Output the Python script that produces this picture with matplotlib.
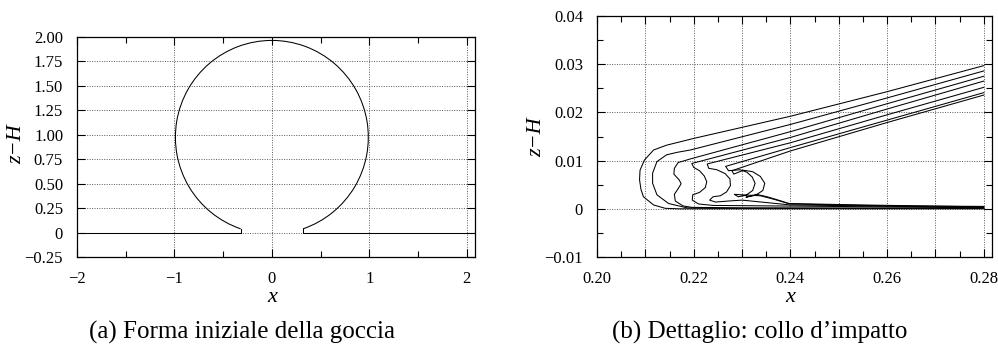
import matplotlib
matplotlib.use("Agg")
import matplotlib.pyplot as plt
from matplotlib.patches import Arc
from matplotlib.ticker import MultipleLocator, FuncFormatter

plt.rcParams['font.family'] = 'Liberation Serif'

# ---- (a) initial drop shape ----
drop_center = (0.0, 0.975)
drop_radius = 0.99
wall_left_x = [-2.0, -0.32, -0.32]
wall_left_y = [0.0, 0.0, 0.038]
wall_right_x = [0.32, 0.32, 2.085]
wall_right_y = [0.038, 0.0, 0.0]

a_xticks = [-2, -1, 0, 1, 2]
a_yticks = [-0.25, 0, 0.25, 0.5, 0.75, 1.0, 1.25, 1.5, 1.75, 2.0]

# ---- (b) impact neck profiles (outermost first) ----
c1_x = [0.28, 0.26, 0.24, 0.22, 0.2144, 0.2117, 0.2098, 0.2089, 0.2088,
        0.2091, 0.2096, 0.2117, 0.2141, 0.2170, 0.28]
c1_y = [0.0297, 0.0243, 0.0192, 0.0146, 0.0132, 0.0122, 0.0101, 0.0080,
        0.0060, 0.0040, 0.0025, 0.0008, 0.0001, 0.0, 0.0]

c2_x = [0.28, 0.26, 0.24, 0.2193, 0.2165, 0.2144, 0.2124, 0.2115, 0.2115,
        0.2124, 0.2148, 0.2186, 0.225, 0.28]
c2_y = [0.0286, 0.0230, 0.0175, 0.0122, 0.0117, 0.0112, 0.0098, 0.0074,
        0.0053, 0.0029, 0.0011, 0.0002, 0.0001, 0.0001]

c3_x = [0.28, 0.26, 0.24, 0.2195, 0.2168, 0.2160, 0.2159, 0.2170, 0.2174,
        0.2168, 0.2160, 0.2162, 0.2178, 0.2196, 0.23, 0.28]
c3_y = [0.0275, 0.0218, 0.0160, 0.0104, 0.0096, 0.0084, 0.0072, 0.0060,
        0.0052, 0.0042, 0.0030, 0.0016, 0.0006, 0.0003, 0.0002, 0.0001]

c4_x = [0.28, 0.26, 0.24, 0.2196, 0.2200, 0.2212, 0.2222, 0.2227, 0.2224,
        0.2212, 0.2198, 0.2197, 0.2210, 0.2240, 0.26, 0.28]
c4_y = [0.0265, 0.0207, 0.0148, 0.0094, 0.0086, 0.0079, 0.0068, 0.0056,
        0.0044, 0.0034, 0.0029, 0.0018, 0.0010, 0.0007, 0.0004, 0.0002]

c5_x = [0.28, 0.26, 0.24, 0.2228, 0.2231, 0.2248, 0.2265, 0.2275, 0.2276,
        0.2268, 0.2255, 0.2240, 0.2233, 0.2245, 0.2270, 0.2300, 0.2350,
        0.2400, 0.28]
c5_y = [0.0252, 0.0195, 0.0137, 0.0093, 0.0084, 0.0081, 0.0073, 0.0062,
        0.0048, 0.0035, 0.0027, 0.0025, 0.0018, 0.0014, 0.0016, 0.0018,
        0.0013, 0.0008, 0.0003]

c6_x = [0.28, 0.26, 0.24, 0.2266, 0.2272, 0.2296, 0.2310, 0.2321, 0.2327,
        0.2322, 0.2308, 0.2292, 0.2284, 0.2300, 0.2338, 0.2365, 0.2396,
        0.2545, 0.28]
c6_y = [0.0241, 0.0184, 0.0127, 0.0088, 0.0079, 0.0081, 0.0076, 0.0066,
        0.0053, 0.0038, 0.0028, 0.0025, 0.0030, 0.0029, 0.0027, 0.0020,
        0.0011, 0.0008, 0.0004]

c7_x = [0.28, 0.26, 0.24, 0.2279, 0.2283, 0.2303, 0.2322, 0.2338, 0.2347,
        0.2343, 0.2328, 0.2308, 0.2330, 0.2352, 0.2375, 0.2400, 0.26, 0.28]
c7_y = [0.0236, 0.0179, 0.0120, 0.0079, 0.0072, 0.0080, 0.0077, 0.0067,
        0.0053, 0.0038, 0.0028, 0.0024, 0.0030, 0.0025, 0.0018, 0.0010,
        0.0006, 0.0005]

profiles = [(c1_x, c1_y), (c2_x, c2_y), (c3_x, c3_y), (c4_x, c4_y),
            (c5_x, c5_y), (c6_x, c6_y), (c7_x, c7_y)]

b_xlim = (0.20, 0.2817)
b_ylim = (-0.01, 0.04)

caption_a = "(a) Forma iniziale della goccia"
caption_b = "(b) Dettaglio: collo d\u2019impatto"

W, H = 998, 349
fig = plt.figure(figsize=(W / 100, H / 100), dpi=100)


def box(l, r, t, b):
    return [l / W, (H - b) / H, (r - l) / W, (b - t) / H]


ax1 = fig.add_axes(box(77, 475, 37, 257))
ax2 = fig.add_axes(box(597, 992, 16, 257))

line_kw = dict(color='black', lw=0.75)
grid_kw = dict(color='0.35', lw=0.7, linestyle=(0, (1, 1.5)))

# panel (a)
ax1.add_patch(Arc(drop_center, 2 * drop_radius, 2 * drop_radius,
                  theta1=-71.14, theta2=251.14, **line_kw))
ax1.plot(wall_left_x, wall_left_y, **line_kw)
ax1.plot(wall_right_x, wall_right_y, **line_kw)
ax1.set_xlim(-2, 2.085)
ax1.set_ylim(-0.25, 2.0)
ax1.set_xticks(a_xticks)
ax1.xaxis.set_minor_locator(MultipleLocator(0.5))
ax1.set_yticks(a_yticks)
ax1.xaxis.set_major_formatter(FuncFormatter(lambda v, p: f"{v:.0f}".replace('-', '\u2212')))
ax1.yaxis.set_major_formatter(FuncFormatter(
    lambda v, p: "0" if abs(v) < 1e-9 else f"{v:.2f}".replace('-', '\u2212')))

# panel (b)
for px, py in profiles:
    ax2.plot(px, py, **line_kw)
ax2.set_xlim(*b_xlim)
ax2.set_ylim(*b_ylim)
ax2.xaxis.set_major_locator(MultipleLocator(0.01))
ax2.xaxis.set_minor_locator(MultipleLocator(0.005))
ax2.yaxis.set_major_locator(MultipleLocator(0.01))
ax2.yaxis.set_minor_locator(MultipleLocator(0.005))
ax2.xaxis.set_major_formatter(FuncFormatter(
    lambda v, p: f"{v:.2f}" if round(v * 100) % 2 == 0 else ""))
ax2.yaxis.set_major_formatter(FuncFormatter(
    lambda v, p: "0" if abs(v) < 1e-9 else f"{v:.2f}".replace('-', '\u2212')))

for ax, lx, ly, yy in ((ax1, -0.182, -0.151, 0.514), (ax2, -0.166, -0.152, 0.496)):
    ax.set_xlabel("x", fontstyle='italic', fontsize=16, va='center')
    ax.set_ylabel("z\u2212H", fontstyle='italic', fontsize=16, va='center')
    ax.xaxis.set_label_coords(0.49, lx)
    ax.yaxis.set_label_coords(ly, yy)
    ax.grid(True, which='major', **grid_kw)
    ax.set_axisbelow(True)
    ax.tick_params(which='both', direction='in', top=True, right=True,
                   labelsize=12, pad=10, width=0.8)
    ax.tick_params(which='major', length=6)
    ax.tick_params(which='minor', length=4)
    for s in ax.spines.values():
        s.set_linewidth(0.9)

fig.text(242 / W, 1 - 332 / H, caption_a, ha='center', va='center', fontsize=18)
fig.text(760 / W, 1 - 332 / H, caption_b, ha='center', va='center', fontsize=18)

fig.savefig("out.png", dpi=100)
